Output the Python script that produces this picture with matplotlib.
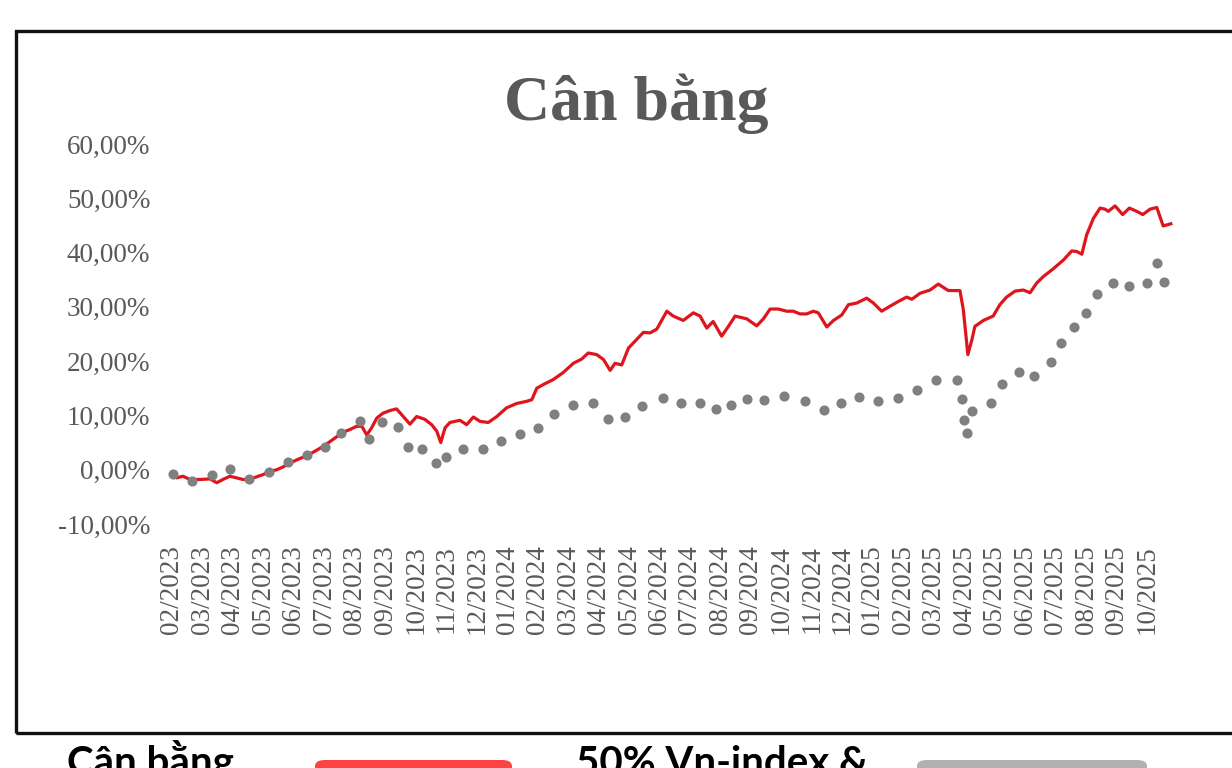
import matplotlib
matplotlib.use("Agg")
import matplotlib.pyplot as plt
from matplotlib.patches import Rectangle, FancyBboxPatch
from matplotlib.ticker import FuncFormatter

# ---------------- data ----------------
title = "Cân bằng"
series_names = ["Cân bằng", "50% Vn-index &"]

tick_labels = ["02/2023", "03/2023", "04/2023", "05/2023", "06/2023", "07/2023",
               "08/2023", "09/2023", "10/2023", "11/2023", "12/2023", "01/2024",
               "02/2024", "03/2024", "04/2024", "05/2024", "06/2024", "07/2024",
               "08/2024", "09/2024", "10/2024", "11/2024", "12/2024", "01/2025",
               "02/2025", "03/2025", "04/2025", "05/2025", "06/2025", "07/2025",
               "08/2025", "09/2025", "10/2025"]

# position in months since 02/2023, value in %
red_t = [0.00, 0.15, 0.36, 0.59, 0.92, 1.25, 1.47, 1.67, 1.90, 2.12, 2.33, 2.56,
         2.78, 2.99, 3.22, 3.44, 3.64, 3.87, 4.09, 4.30, 4.53, 4.75, 4.96, 5.19,
         5.41, 5.61, 5.84, 6.06, 6.23, 6.39, 6.55, 6.72, 6.92, 7.15, 7.37, 7.59,
         7.81, 8.03, 8.29, 8.52, 8.69, 8.82, 8.96, 9.12, 9.45, 9.67, 9.89, 10.11,
         10.38, 10.66, 10.98, 11.31, 11.64, 11.81, 11.97, 12.19, 12.51, 12.84,
         13.17, 13.45, 13.66, 13.94, 14.16, 14.38, 14.54, 14.76, 14.98, 15.25,
         15.47, 15.69, 15.91, 16.24, 16.45, 16.78, 17.11, 17.33, 17.55, 17.76,
         18.04, 18.26, 18.48, 18.86, 19.19, 19.41, 19.63, 19.90, 20.17, 20.39,
         20.61, 20.83, 21.05, 21.21, 21.49, 21.71, 21.98, 22.20, 22.47, 22.80,
         23.02, 23.29, 23.56, 23.84, 24.11, 24.28, 24.55, 24.88, 25.15, 25.31,
         25.48, 25.86, 25.97, 26.12, 26.25, 26.35, 26.63, 26.95, 27.17, 27.39,
         27.67, 27.94, 28.16, 28.38, 28.60, 28.92, 29.25, 29.53, 29.69, 29.86,
         30.02, 30.24, 30.46, 30.62, 30.73, 30.95, 31.20, 31.42, 31.66, 31.86,
         32.10, 32.32, 32.53, 32.78]
red_v = [-0.9, -1.5, -1.2, -1.8, -1.8, -1.7, -2.4, -1.8, -1.2, -1.5, -1.8, -1.8,
         -1.3, -0.9, -0.3, 0.0, 0.5, 1.2, 1.8, 2.3, 2.9, 3.6, 4.3, 5.2,
         6.1, 6.9, 7.4, 8.0, 8.0, 6.4, 7.7, 9.5, 10.4, 10.9, 11.2, 9.8,
         8.4, 9.8, 9.3, 8.3, 7.1, 5.0, 7.7, 8.7, 9.1, 8.3, 9.7, 8.9,
         8.7, 9.8, 11.4, 12.2, 12.6, 12.9, 15.0, 15.7, 16.6, 17.9,
         19.6, 20.4, 21.5, 21.2, 20.3, 18.3, 19.6, 19.3, 22.4, 24.0,
         25.3, 25.2, 25.9, 29.2, 28.3, 27.5, 28.9, 28.3, 26.1, 27.3,
         24.6, 26.4, 28.3, 27.8, 26.5, 27.8, 29.6, 29.6, 29.2, 29.2,
         28.7, 28.7, 29.2, 28.9, 26.3, 27.5, 28.5, 30.4, 30.7, 31.6,
         30.7, 29.2, 30.1, 31.0, 31.8, 31.4, 32.5, 33.1, 34.2, 33.6,
         33.0, 33.0, 29.5, 21.2, 23.9, 26.4, 27.5, 28.3, 30.4, 31.8,
         32.9, 33.1, 32.6, 34.4, 35.6, 37.0, 38.6, 40.3, 40.2, 39.7,
         43.3, 46.3, 48.2, 48.0, 47.6, 48.6, 47.0, 48.2, 47.6, 47.0,
         48.0, 48.3, 44.9, 45.3]

gray_t = [0.02, 0.66, 1.30, 1.90, 2.53, 3.18, 3.81, 4.42, 5.02, 5.55, 6.17, 6.47,
          6.89, 7.42, 7.75, 8.20, 8.66, 8.98, 9.54, 10.20, 10.79, 11.42, 12.00,
          12.54, 13.16, 13.82, 14.30, 14.86, 15.43, 16.10, 16.70, 17.32, 17.85,
          18.35, 18.87, 19.43, 20.09, 20.78, 21.39, 21.96, 22.54, 23.17, 23.83,
          24.45, 25.07, 25.76, 25.92, 25.99, 26.09, 26.26, 26.87, 27.24, 27.80,
          28.29, 28.85, 29.18, 29.60, 29.99, 30.35, 30.88, 31.40, 32.00, 32.33,
          32.56]
gray_v = [-0.7, -2.0, -0.9, 0.2, -1.7, -0.4, 1.5, 2.8, 4.1, 6.8, 9.0, 5.7,
          8.8, 7.9, 4.2, 3.9, 1.3, 2.4, 3.9, 3.9, 5.2, 6.6, 7.7,
          10.3, 12.0, 12.2, 9.4, 9.8, 11.8, 13.3, 12.2, 12.3, 11.2,
          12.0, 13.1, 12.9, 13.6, 12.7, 11.0, 12.2, 13.4, 12.7, 13.3,
          14.7, 16.6, 16.6, 13.1, 9.2, 6.8, 10.9, 12.3, 15.7, 18.0,
          17.3, 19.9, 23.4, 26.2, 28.8, 32.3, 34.4, 33.9, 34.4, 38.1,
          34.6]

y_ticks = [-10, 0, 10, 20, 30, 40, 50, 60]

# ---------------- figure ----------------
W, H = 1232, 768
fig = plt.figure(figsize=(W / 100, H / 100), dpi=100)
fig.patch.set_facecolor("white")

def fx(px):
    return px / W

def fy(py):
    return (H - py) / H

# plot area: x px 160..1185, y px 144 (60%) .. 524 (-10%)
ax = fig.add_axes([fx(160), fy(524), fx(1185) - fx(160), fy(144) - fy(524)])
ax.set_facecolor("none")

ax.plot(red_t, red_v, color="#E0141C", lw=2.3, solid_joinstyle="round", zorder=2)
ax.plot(gray_t, gray_v, linestyle="none", marker="o", markersize=7.3,
        color="#808080", markeredgewidth=0, zorder=3)

ax.set_xlim((160 - 172) / 30.47, (1185 - 172) / 30.47)
ax.set_ylim(-10, 60)

ax.set_yticks(y_ticks)
ax.yaxis.set_major_formatter(FuncFormatter(lambda v, p: f"{v:.2f}".replace(".", ",") + "%"))
ax.set_xticks(range(len(tick_labels)))
ax.set_xticklabels(tick_labels, rotation=90)

for lab in ax.get_yticklabels() + ax.get_xticklabels():
    lab.set_fontfamily("Liberation Serif")
    lab.set_fontsize(19.5)
    lab.set_color("#595959")
ax.tick_params(axis="both", length=0)
ax.tick_params(axis="y", pad=7)
ax.tick_params(axis="x", pad=15)
for s in ax.spines.values():
    s.set_visible(False)

# title
fig.text(fx(636), fy(120), title, ha="center", va="baseline",
         fontfamily="Liberation Serif", fontweight="bold", fontsize=46,
         color="#595959")

# border of chart box
fig.patches.append(Rectangle((fx(16), fy(733)), 1.2, fy(31) - fy(733),
                             transform=fig.transFigure, fill=False,
                             edgecolor="#111111", linewidth=2.4))

# legend below (cut off by figure edge)
fig.text(fx(150), fy(775), series_names[0], ha="center", va="baseline",
         fontfamily="Lato", fontweight="bold", fontsize=29, color="black")
fig.text(fx(722), fy(775), series_names[1], ha="center", va="baseline",
         fontfamily="Lato", fontweight="bold", fontsize=29, color="black")
fig.patches.append(FancyBboxPatch((fx(315), fy(800)), fx(512) - fx(315), fy(760) - fy(800),
                                  boxstyle="round,pad=0,rounding_size=0.008",
                                  transform=fig.transFigure, facecolor="#FF4242",
                                  edgecolor="none"))
fig.patches.append(FancyBboxPatch((fx(917), fy(800)), fx(1147) - fx(917), fy(760) - fy(800),
                                  boxstyle="round,pad=0,rounding_size=0.008",
                                  transform=fig.transFigure, facecolor="#B0B0B0",
                                  edgecolor="none"))

fig.savefig("out.png", dpi=100)
